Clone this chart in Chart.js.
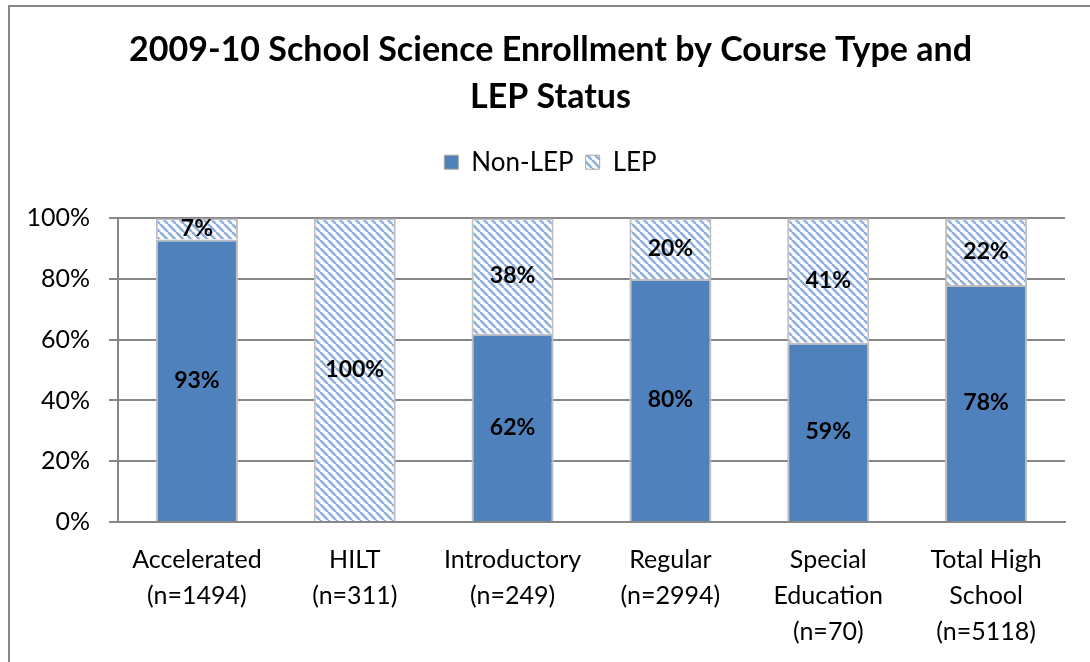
<!DOCTYPE html>
<html>
<head>
<meta charset="utf-8">
<script src="https://cdn.jsdelivr.net/npm/chart.js@4"></script>
<style>
  html, body { margin: 0; padding: 0; background: #fff; }
  #wrap { position: relative; width: 1090px; height: 662px; overflow: hidden; }
  #frame { position: absolute; left: 8px; top: 5px; width: 1200px; height: 800px;
           border-left: 2px solid #868686; border-top: 2px solid #868686; }
  canvas { position: absolute; left: 0; top: 0; }
</style>
</head>
<body>
<div id="wrap">
  <div id="frame"></div>
  <canvas id="chart" width="1090" height="662"></canvas>
</div>
<script>
const categories = [
    ["Accelerated", "(n=1494)"],
    ["HILT", "(n=311)"],
    ["Introductory", "(n=249)"],
    ["Regular", "(n=2994)"],
    ["Special", "Education", "(n=70)"],
    ["Total High", "School", "(n=5118)"]
];
const nonLep = [93, 0, 62, 80, 59, 78];
const lep = [7, 100, 38, 20, 41, 22];
const yTicks = [0, 20, 40, 60, 80, 100];

const FONT = "Lato, 'Open Sans', sans-serif";
const BLUE = "#4F81BD";

// diagonal hatch for the LEP series
function makeHatch() {
    const c = document.createElement("canvas");
    c.width = 8;
    c.height = 8;
    const g = c.getContext("2d");
    g.fillStyle = "#fff";
    g.fillRect(0, 0, 8, 8);
    g.strokeStyle = "#8FAFDA";
    g.lineWidth = 2.6;
    for (let k = -8; k <= 8; k += 8) {
        g.beginPath();
        g.moveTo(k, 0);
        g.lineTo(k + 8, 8);
        g.stroke();
    }
    return g.createPattern(c, "repeat");
}
const hatch = makeHatch();

// percent labels inside each segment
const segmentLabels = {
    id: "segmentLabels",
    afterDatasetsDraw(chart) {
        const ctx = chart.ctx;
        ctx.save();
        ctx.font = "bold 23px " + FONT;
        ctx.fillStyle = "#000";
        ctx.textAlign = "center";
        ctx.textBaseline = "middle";
        chart.data.datasets.forEach((ds, i) => {
            chart.getDatasetMeta(i).data.forEach((bar, j) => {
                const v = ds.data[j];
                if (!v) return;
                ctx.fillText(v + "%", bar.x, (bar.y + bar.base) / 2);
            });
        });
        ctx.restore();
    }
};

new Chart(document.getElementById("chart"), {
    type: "bar",
    data: {
        labels: categories,
        datasets: [
            {
                label: "Non-LEP",
                data: nonLep,
                backgroundColor: BLUE,
                borderColor: "#BFBFBF",
                borderWidth: 2
            },
            {
                label: "LEP",
                data: lep,
                backgroundColor: hatch,
                borderColor: "#BFBFBF",
                borderWidth: 2
            }
        ]
    },
    options: {
        responsive: false,
        animation: false,
        layout: { padding: { left: 20, right: 9, top: 18, bottom: 0 } },
        datasets: { bar: { categoryPercentage: 1, barPercentage: 0.52 } },
        plugins: {
            tooltip: { enabled: false },
            title: {
                display: true,
                text: ["2009-10 School Science Enrollment by Course Type and", "LEP Status"],
                color: "#000",
                font: { family: FONT, size: 34, weight: "bold", lineHeight: 1.4 },
                padding: { top: 8, bottom: 16 }
            },
            // empty box below the legend, keeps the gap above the plot
            subtitle: {
                display: true,
                text: "",
                weight: 500,
                font: { size: 10, lineHeight: 1 },
                padding: { top: 0, bottom: 23 }
            },
            legend: {
                position: "top",
                labels: {
                    color: "#000",
                    font: { family: FONT, size: 26 },
                    boxWidth: 14,
                    boxHeight: 14,
                    padding: 12,
                    generateLabels(chart) {
                        return chart.data.datasets.map((ds, i) => ({
                            text: ds.label,
                            fillStyle: ds.backgroundColor,
                            strokeStyle: "#A6A6A6",
                            lineWidth: 1,
                            datasetIndex: i
                        }));
                    }
                }
            }
        },
        scales: {
            x: {
                stacked: true,
                grid: { display: false },
                border: { color: "#868686", width: 2 },
                ticks: {
                    color: "#000",
                    font: { family: FONT, size: 25, lineHeight: 1.44 },
                    maxRotation: 0,
                    autoSkip: false,
                    padding: 12
                },
                afterFit(scale) { scale.height = 140; }
            },
            y: {
                stacked: true,
                min: 0,
                max: 100,
                afterBuildTicks(scale) {
                    scale.ticks = yTicks.map(v => ({ value: v }));
                },
                grid: { color: "#868686", lineWidth: 2, tickLength: 9 },
                border: { color: "#868686", width: 2 },
                ticks: {
                    color: "#000",
                    font: { family: FONT, size: 25 },
                    padding: 19,
                    callback: v => v + "%"
                },
                afterFit(scale) { scale.width = 98; }
            },
            // blank spacer on the right so the title centres like the original
            y2: {
                position: "right",
                min: 0,
                max: 100,
                grid: { display: false },
                border: { display: false },
                ticks: { display: false },
                afterFit(scale) { scale.width = 16; }
            }
        }
    },
    plugins: [segmentLabels]
});
</script>
</body>
</html>
